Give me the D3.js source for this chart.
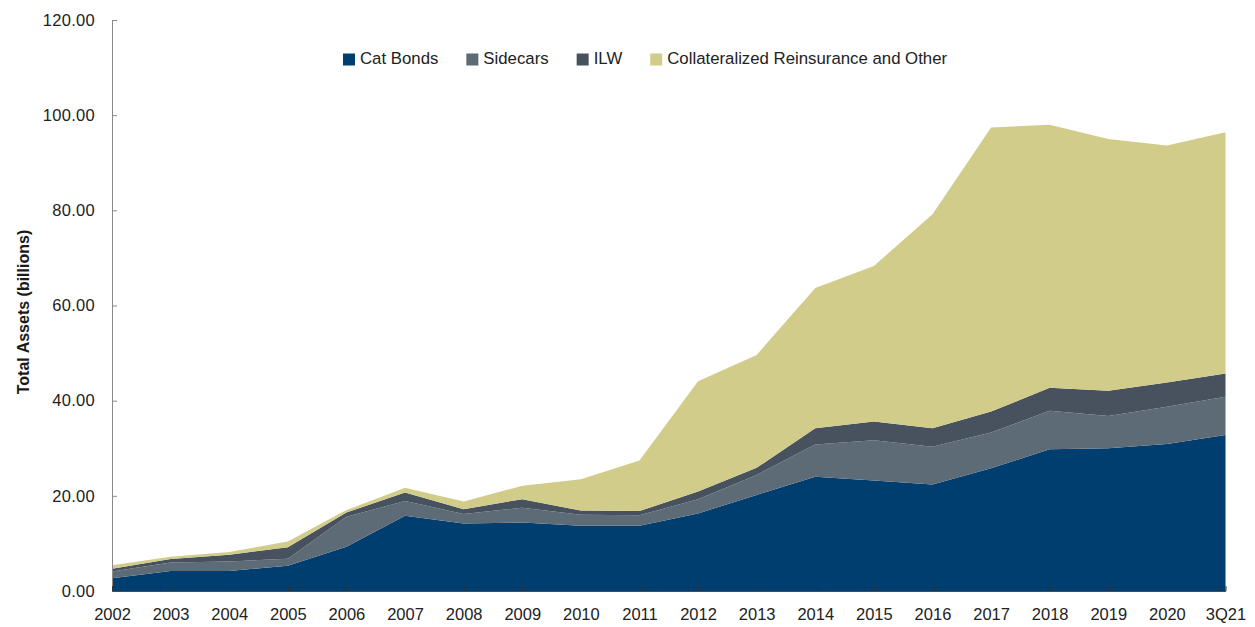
<!DOCTYPE html>
<html>
<head>
<meta charset="utf-8">
<script src="https://cdn.jsdelivr.net/npm/d3@7"></script>
<style>
  html, body { margin: 0; padding: 0; background: #ffffff; }
  svg { display: block; font-family: "Liberation Sans", Arial, Helvetica, sans-serif; }
</style>
</head>
<body>
<svg id="chart" width="1255" height="627"></svg>
<script>
// Insurance-linked securities market, total assets by instrument (billions)
const categories = ["2002", "2003", "2004", "2005", "2006", "2007", "2008", "2009", "2010", "2011",
                    "2012", "2013", "2014", "2015", "2016", "2017", "2018", "2019", "2020", "3Q21"];

const catBonds   = [2.7, 4.2, 4.2, 5.3, 9.3, 15.8, 14.2, 14.4, 13.7, 13.7,
                    16.3, 20.2, 24.0, 23.2, 22.4, 25.8, 29.8, 30.0, 30.9, 32.8];
const sidecars   = [1.4, 1.8, 2.0, 1.5, 6.3, 3.1, 2.0, 3.1, 2.3, 2.2,
                    3.0, 4.2, 6.8, 8.5, 7.9, 7.5, 8.1, 6.8, 7.8, 8.0];
const ilw        = [0.6, 0.7, 1.4, 2.4, 0.9, 1.8, 1.0, 1.8, 0.9, 0.9,
                    1.6, 1.5, 3.4, 3.9, 3.9, 4.4, 4.8, 5.3, 5.1, 4.9];
const collateral = [0.7, 0.5, 0.6, 1.2, 0.5, 1.0, 1.6, 2.8, 6.6, 10.6,
                    23.2, 23.7, 29.5, 32.7, 45.0, 59.7, 55.3, 52.9, 49.8, 50.7];

const seriesNames  = ["Cat Bonds", "Sidecars", "ILW", "Collateralized Reinsurance and Other"];
const seriesColors = ["#013e70", "#5d6b77", "#48525e", "#d2cc8b"];
const yTicks = [0, 20, 40, 60, 80, 100, 120];

const seriesValues = [catBonds, sidecars, ilw, collateral];
const rows = categories.map((c, i) => {
  const r = { period: c };
  seriesNames.forEach((name, s) => { r[name] = seriesValues[s][i]; });
  return r;
});

const svg = d3.select("#chart");
const plot = { left: 112, right: 1225.5, top: 20, bottom: 591 };

const x = d3.scalePoint().domain(categories).range([plot.left, plot.right]).padding(0);
const y = d3.scaleLinear().domain([0, 120]).range([plot.bottom, plot.top]);
const color = d3.scaleOrdinal().domain(seriesNames).range(seriesColors);

const stacked = d3.stack().keys(seriesNames)(rows);

const area = d3.area()
  .x(d => x(d.data.period))
  .y0(d => y(d[0]))
  .y1(d => y(d[1]))
  .curve(d3.curveLinear);

// Stacked areas
svg.append("g")
  .selectAll("path")
  .data(stacked)
  .join("path")
  .attr("d", area)
  .attr("fill", d => color(d.key));

// Y axis: ticks point into the plot, labels sit to the left
const yAxis = svg.append("g")
  .attr("transform", `translate(${plot.left},0)`)
  .call(d3.axisLeft(y).tickValues(yTicks).tickFormat(d3.format(".2f"))
    .tickSizeInner(-5).tickSizeOuter(0).tickPadding(17));
yAxis.select(".domain").attr("stroke", "#8a8a8a");
yAxis.selectAll(".tick line").attr("stroke", "#8a8a8a");
yAxis.selectAll(".tick text")
  .attr("font-size", "16.5px")
  .attr("letter-spacing", "0.3px")
  .attr("fill", "#222222")
  .attr("font-family", "Liberation Sans, Arial, sans-serif");

// X axis along the baseline, ticks pointing up
const xAxis = svg.append("g")
  .attr("transform", `translate(0,${plot.bottom})`)
  .call(d3.axisBottom(x).tickSizeInner(-5).tickSizeOuter(0).tickPadding(17));
xAxis.select(".domain").attr("stroke", "#4a4a4a");
xAxis.selectAll(".tick line").attr("stroke", "#333333");
xAxis.selectAll(".tick text")
  .attr("font-size", "16.5px")
  .attr("fill", "#222222")
  .attr("font-family", "Liberation Sans, Arial, sans-serif");

// Y axis title
svg.append("text")
  .attr("transform", "translate(28.5,312) rotate(-90)")
  .attr("text-anchor", "middle")
  .attr("font-size", "16px")
  .attr("font-weight", "bold")
  .attr("fill", "#1a1a1a")
  .text("Total Assets (billions)");

// Legend row
const legend = svg.append("g");
let lx = 343;
seriesNames.forEach(name => {
  legend.append("rect")
    .attr("x", lx).attr("y", 53.5)
    .attr("width", 12).attr("height", 12)
    .attr("fill", color(name));
  const t = legend.append("text")
    .attr("x", lx + 17).attr("y", 64)
    .attr("font-size", "16.8px")
    .attr("fill", "#222222")
    .text(name);
  lx += 17 + t.node().getComputedTextLength() + 28;
});
</script>
</body>
</html>
